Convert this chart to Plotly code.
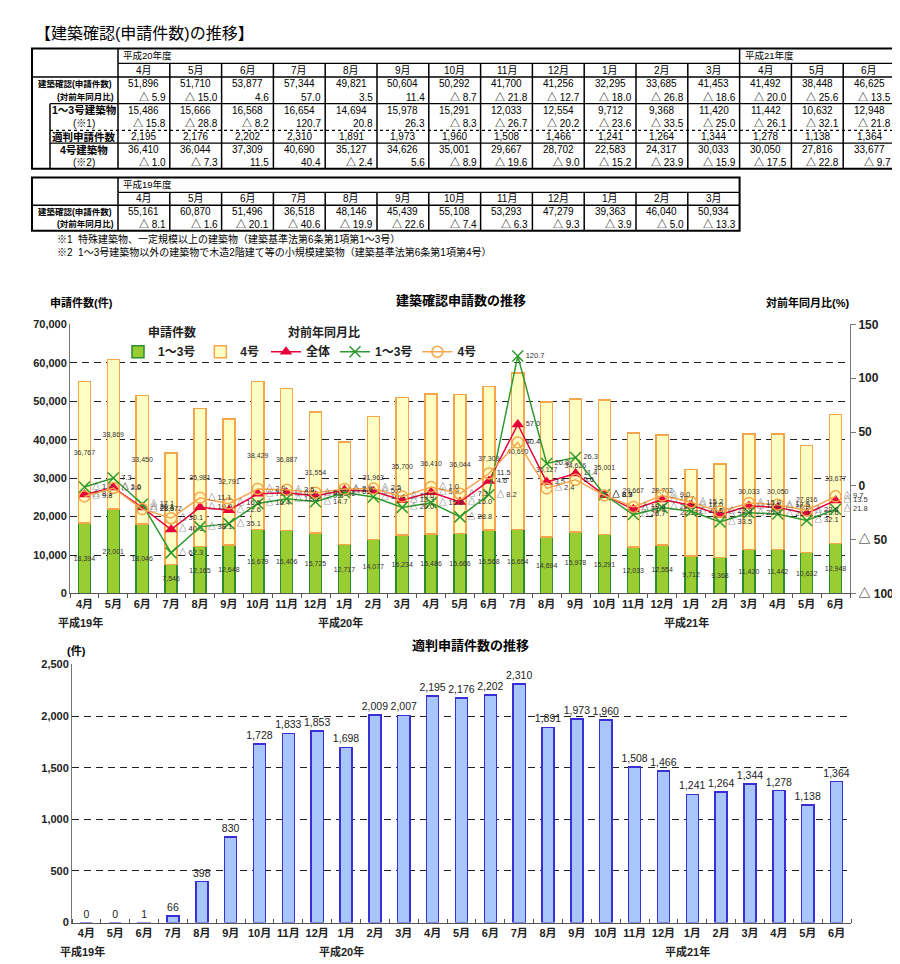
import plotly.graph_objects as go

W, H = 900, 964
FONT = "Liberation Sans, Noto Sans CJK JP, sans-serif"

# ---------------- data ----------------
months = ["4月", "5月", "6月", "7月", "8月", "9月", "10月", "11月", "12月", "1月", "2月", "3月",
          "4月", "5月", "6月", "7月", "8月", "9月", "10月", "11月", "12月", "1月", "2月", "3月",
          "4月", "5月", "6月"]
year_marks = {0: "平成19年", 9: "平成20年", 21: "平成21年"}
fiscal_years = ["平成19年度", "平成20年度", "平成21年度"]

kou13 = [18394, 22001, 18046, 7546, 12165, 12648, 16679, 16406, 15725, 12717, 14077, 15234,
         15486, 15666, 16568, 16654, 14694, 15978, 15291, 12033, 12554, 9712, 9368, 11420,
         11442, 10632, 12948]
kou4 = [36767, 38869, 33450, 28972, 35981, 32791, 38429, 36887, 31554, 26646, 31963, 35700,
        36410, 36044, 37309, 40690, 35127, 34626, 35001, 29667, 28702, 22583, 24317, 30033,
        30050, 27816, 33677]
total_yoy = [-8.1, -1.6, -20.1, -40.6, -19.9, -22.6, -7.4, -6.3, -9.3, -3.9, -5.0, -13.3,
             -5.9, -15.0, 4.6, 57.0, 3.5, 11.4, -8.7, -21.8, -12.7, -18.0, -26.8, -18.6,
             -20.0, -25.6, -13.5]
kou13_yoy = [-1.0, 7.3, -17.1, -62.3, -38.1, -35.1, -16.4, -12.0, -14.7, -6.2, -10.4, -20.0,
             -15.8, -28.8, -8.2, 120.7, 20.8, 26.3, -8.3, -26.7, -20.2, -23.6, -33.5, -25.0,
             -26.1, -32.1, -21.8]
kou4_yoy = [-9.8, -2.0, -21.6, -30.1, -11.1, -16.5, -2.9, -3.5, -6.3, -2.9, -2.5, -10.0,
            -1.0, -7.3, 11.5, 40.4, -2.4, 5.6, -8.9, -19.6, -9.0, -15.2, -23.9, -15.9,
            -17.5, -22.8, -9.7]
tekihan = [0, 0, 1, 66, 398, 830, 1728, 1833, 1853, 1698, 2009, 2007, 2195, 2176, 2202, 2310,
           1891, 1973, 1960, 1508, 1466, 1241, 1264, 1344, 1278, 1138, 1364]

total = [a + b for a, b in zip(kou13, kou4)]
xs = list(range(len(months)))


def fy(v):
    return f"△ {abs(v):.1f}" if v < 0 else f"{v:.1f}"


def px(x):
    return x / W


def py(y):
    return 1 - y / H


shapes = []
annotations = []


def hline(x0, x1, y, w=1.3, dash="solid"):
    shapes.append(dict(type="line", xref="paper", yref="paper", x0=px(x0), x1=px(x1),
                       y0=py(y), y1=py(y), line=dict(color="black", width=w, dash=dash)))


def vline(x, y0, y1, w=1.3):
    shapes.append(dict(type="line", xref="paper", yref="paper", x0=px(x), x1=px(x),
                       y0=py(y0), y1=py(y1), line=dict(color="black", width=w)))


def text(x, y, s, size=9.5, anchor="center", bold=False, color="black"):
    annotations.append(dict(xref="paper", yref="paper", x=px(x), y=py(y), text=s,
                            showarrow=False, xanchor=anchor, yanchor="middle",
                            font=dict(size=size, family=FONT, color=color,
                                      weight="bold" if bold else "normal")))


# ---------------- title ----------------
text(25, 18.5, "【建築確認(申請件数)の推移】", size=16, anchor="left")

NUM = 10

# ---------------- table 1 (H20 - H21) ----------------
X0, XL, CW = 24, 110, 51.8
idx1 = list(range(12, 27))
X1 = XL + CW * len(idx1)
R = [34, 49, 63, 76.5, 90, 103.5, 117, 130, 143, 156]
shapes.append(dict(type="rect", xref="paper", yref="paper", x0=px(X0), x1=px(X1),
                   y0=py(R[-1]), y1=py(R[0]), line=dict(color="black", width=2)))
vline(XL, R[0], R[-1], 1.5)
hline(XL, X1, R[1])
hline(X0, X1, R[2], 1.5)
vline(XL + CW * 12, R[0], R[1], 1.5)
for k in range(1, len(idx1)):
    vline(XL + CW * k, R[1], R[-1], 1.5)
hline(42, X1, R[4], 1.3)
hline(42, X1, R[6], 1.2, "dot")
hline(42, X1, R[7], 1.3)
vline(42, R[4], R[-1], 1.5)
text(XL + 3, (R[0] + R[1]) / 2, fiscal_years[1], size=9.5, anchor="left")
text(XL + CW * 12 + 3, (R[0] + R[1]) / 2, fiscal_years[2], size=9.5, anchor="left")
rc = [(R[i] + R[i + 1]) / 2 for i in range(len(R) - 1)]
text(67, rc[2], "建築確認(申請件数)", size=8.5, bold=True)
text(108, rc[3], "(対前年同月比)", size=8.5, anchor="right", bold=True)
text(76, rc[4], "1～3号建築物", size=10.5, bold=True)
text(76, rc[5], "(※1)", size=10)
text(76, rc[6], "適判申請件数", size=10.5, bold=True)
text(76, rc[7], "4号建築物", size=10.5, bold=True)
text(76, rc[8], "(※2)", size=10)
for k, i in enumerate(idx1):
    cx = XL + CW * (k + 0.5)
    xr = XL + CW * (k + 1) - 2
    text(cx, rc[1], months[i], size=NUM)
    text(cx, rc[2], f"{total[i]:,}", size=NUM)
    text(xr, rc[3], fy(total_yoy[i]), size=NUM, anchor="right")
    text(cx, rc[4], f"{kou13[i]:,}", size=NUM)
    text(xr, rc[5], fy(kou13_yoy[i]), size=NUM, anchor="right")
    text(cx, rc[6], f"{tekihan[i]:,}", size=NUM)
    text(cx, rc[7], f"{kou4[i]:,}", size=NUM)
    text(xr, rc[8], fy(kou4_yoy[i]), size=NUM, anchor="right")

# ---------------- table 2 (H19) ----------------
idx2 = list(range(0, 12))
X2 = XL + CW * len(idx2)
R2 = [165, 180, 193, 206, 219]
shapes.append(dict(type="rect", xref="paper", yref="paper", x0=px(X0), x1=px(X2),
                   y0=py(R2[-1]), y1=py(R2[0]), line=dict(color="black", width=2)))
vline(XL, R2[0], R2[-1], 1.5)
hline(XL, X2, R2[1])
hline(X0, X2, R2[2], 1.5)
for k in range(1, len(idx2)):
    vline(XL + CW * k, R2[1], R2[-1], 1.5)
rc2 = [(R2[i] + R2[i + 1]) / 2 for i in range(len(R2) - 1)]
text(XL + 3, rc2[0], fiscal_years[0], size=9.5, anchor="left")
text(67, rc2[2], "建築確認(申請件数)", size=8.5, bold=True)
text(108, rc2[3], "(対前年同月比)", size=8.5, anchor="right", bold=True)
for k, i in enumerate(idx2):
    cx = XL + CW * (k + 0.5)
    xr = XL + CW * (k + 1) - 2
    text(cx, rc2[1], months[i], size=NUM)
    text(cx, rc2[2], f"{total[i]:,}", size=NUM)
    text(xr, rc2[3], fy(total_yoy[i]), size=NUM, anchor="right")

text(47, 227, "※1  特殊建築物、一定規模以上の建築物（建築基準法第6条第1項第1～3号）", size=10, anchor="left")
text(47, 240, "※2  1～3号建築物以外の建築物で木造2階建て等の小規模建築物（建築基準法第6条第1項第4号）", size=10, anchor="left")

# ---------------- chart titles ----------------
text(453, 290, "建築確認申請数の推移", size=13, bold=True)
text(40, 292, "申請件数(件)", size=11, anchor="left", bold=True)
text(843, 292, "対前年同月比(%)", size=11, anchor="right", bold=True)
text(462, 640, "適判申請件数の推移", size=13, bold=True)
text(57, 645, "(件)", size=11, anchor="left", bold=True)
# legend group titles
text(138, 322, "申請件数", size=12, anchor="left", bold=True, color="#222")
text(278, 322, "対前年同月比", size=12, anchor="left", bold=True, color="#222")

# year labels under the month ticks
for i, yl in year_marks.items():
    annotations.append(dict(xref="x", yref="paper", x=i - 0.15, y=py(616), text=yl,
                            showarrow=False, xanchor="center", yanchor="middle",
                            font=dict(size=11, family=FONT, color="#222", weight="bold")))
    annotations.append(dict(xref="x2", yref="paper", x=i - 0.15, y=py(950), text=yl,
                            showarrow=False, xanchor="center", yanchor="middle",
                            font=dict(size=11, family=FONT, color="#222", weight="bold")))

# white box behind legends (hides gridline)
shapes.append(dict(type="rect", xref="paper", yref="paper", x0=px(92), x1=px(492),
                   y0=py(351), y1=py(316), fillcolor="white", line=dict(width=0),
                   layer="between"))

fig = go.Figure()
GREEN_F, GREEN_L = "#9ACD32", "#2E8B2E"
YEL_F, ORANGE = "#FFFFC4", "#F5A54C"
RED = "#E8003A"
LINEG = "#2E9A2E"

fig.add_bar(x=xs, y=kou13, name="1～3号", width=0.42,
            marker=dict(color=GREEN_F, line=dict(color=GREEN_L, width=1.5)),
            text=[f"{v:,}" for v in kou13], textposition="inside", insidetextanchor="middle",
            textangle=0, constraintext="none", textfont=dict(size=7, color="#333", family=FONT),
            legend="legend", xaxis="x", yaxis="y", hoverinfo="skip")
fig.add_bar(x=xs, y=kou4, name="4号", width=0.42,
            marker=dict(color=YEL_F, line=dict(color=ORANGE, width=1.5)),
            text=[f"{v:,}" for v in kou4], textposition="inside", insidetextanchor="middle",
            textangle=0, constraintext="none", textfont=dict(size=7, color="#333", family=FONT),
            legend="legend", xaxis="x", yaxis="y", hoverinfo="skip")

fig.add_scatter(x=xs, y=total_yoy, name="全体", mode="lines+markers+text",
                line=dict(color=RED, width=1.5),
                marker=dict(symbol="triangle-up", size=11, color=RED),
                text=[fy(v) for v in total_yoy], textposition="middle right",
                textfont=dict(size=7.5, color="#333", family=FONT),
                legend="legend2", xaxis="x", yaxis="y2", cliponaxis=False)
fig.add_scatter(x=xs, y=kou13_yoy, name="1～3号", mode="lines+markers+text",
                line=dict(color=LINEG, width=1.5),
                marker=dict(symbol="x-thin-open", size=11, color=LINEG, line=dict(width=1.5, color=LINEG)),
                text=[fy(v) for v in kou13_yoy], textposition="middle right",
                textfont=dict(size=7.5, color="#333", family=FONT),
                legend="legend2", xaxis="x", yaxis="y2", cliponaxis=False)
fig.add_scatter(x=xs, y=kou4_yoy, name="4号", mode="lines+markers+text",
                line=dict(color=ORANGE, width=1.5),
                marker=dict(symbol="circle-open", size=11, color=ORANGE, line=dict(width=1.5, color=ORANGE)),
                text=[fy(v) for v in kou4_yoy], textposition="middle right",
                textfont=dict(size=7.5, color="#333", family=FONT),
                legend="legend2", xaxis="x", yaxis="y2", cliponaxis=False)

fig.add_bar(x=xs, y=tekihan, name="適判", width=0.42, showlegend=False,
            marker=dict(color="#A8C6FA", line=dict(color="#3A2FD6", width=1.5)),
            text=[f"{v:,}" for v in tekihan], textposition="outside", textangle=0,
            constraintext="none", textfont=dict(size=10.5, color="#222", family=FONT),
            xaxis="x2", yaxis="y3", cliponaxis=False, hoverinfo="skip")

GRID = dict(showgrid=True, gridcolor="#222", gridwidth=1, griddash="7px,5px")
TICKF = dict(size=11, color="#222", family=FONT, weight="bold")

fig.update_layout(
    width=W, height=H, margin=dict(l=0, r=0, t=0, b=0),
    paper_bgcolor="white", plot_bgcolor="white",
    barmode="stack", font=dict(family=FONT),
    shapes=shapes, annotations=annotations,
    xaxis=dict(domain=[px(62), px(842)], range=[-0.5, 26.5], anchor="y",
               tickmode="array", tickvals=xs, ticktext=months, ticks="", tickangle=0,
               showline=True, linecolor="#555", showgrid=False, zeroline=False,
               tickfont=TICKF,
               minor=dict(tick0=-0.5, dtick=1, ticks="outside", ticklen=4, tickcolor="#555")),
    yaxis=dict(domain=[py(587), py(314)], range=[0, 70000], dtick=10000, tickformat=",",
               showline=True, linecolor="#777", zeroline=False, tickfont=TICKF, anchor="x",
               **GRID),
    yaxis2=dict(overlaying="y", side="right", range=[-100, 150], anchor="x",
                tickmode="array", tickvals=[150, 100, 50, 0, -50, -100],
                ticktext=["150", "100", "50", "0", "△ 50", "△ 100"],
                showline=True, linecolor="#777", ticks="outside", ticklen=5, tickcolor="#777",
                showgrid=False, zeroline=False,
                tickfont=dict(size=12, color="#222", family=FONT, weight="bold")),
    xaxis2=dict(domain=[px(64), px(843)], range=[-0.5, 26.5], anchor="y3",
                tickmode="array", tickvals=xs, ticktext=months, ticks="", tickangle=0,
                showline=True, linecolor="#555", showgrid=False, zeroline=False,
                tickfont=TICKF,
                minor=dict(tick0=-0.5, dtick=1, ticks="inside", ticklen=4, tickcolor="#555")),
    yaxis3=dict(domain=[py(921), py(659)], range=[0, 2500], dtick=500, tickformat=",",
                showline=True, linecolor="#777", zeroline=False, tickfont=TICKF, anchor="x2",
                **GRID),
    legend=dict(orientation="h", x=px(110), y=py(327), xanchor="left", yanchor="top",
                font=dict(size=12, family=FONT, weight="bold", color="#222"),
                bgcolor="rgba(0,0,0,0)", itemwidth=30, traceorder="normal"),
    legend2=dict(orientation="h", x=px(258), y=py(327), xanchor="left", yanchor="top",
                 font=dict(size=12, family=FONT, weight="bold", color="#222"),
                 bgcolor="rgba(0,0,0,0)", itemwidth=30, traceorder="normal"),
    showlegend=True,
)

fig.write_html("out.html")
